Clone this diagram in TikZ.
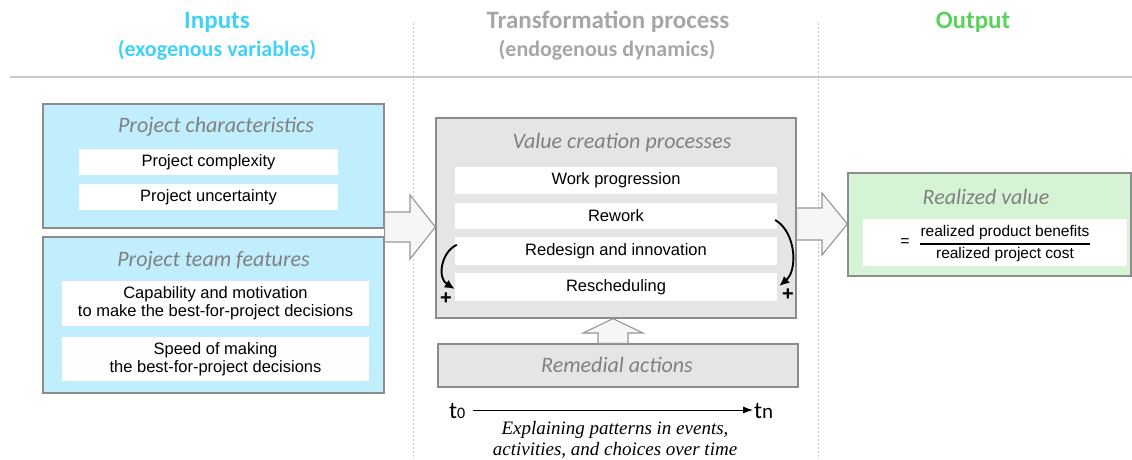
\documentclass[tikz,border=0pt]{standalone}
\usepackage{fontspec}
\setmainfont{Liberation Sans}
\newfontfamily\calib{Carlito}
\newfontfamily\tmsfont{Liberation Serif}
\usetikzlibrary{arrows.meta,calc}
\definecolor{cyanfill}{RGB}{192,238,252}
\definecolor{greenfill}{RGB}{213,244,213}
\definecolor{grayfill}{RGB}{229,229,229}
\definecolor{boxborder}{RGB}{140,140,140}
\definecolor{titlegray}{RGB}{128,128,128}
\definecolor{hdrcyan}{RGB}{64,210,246}
\definecolor{hdrgray}{RGB}{166,166,166}
\definecolor{hdrgreen}{RGB}{90,210,90}
\definecolor{arrowfill}{RGB}{246,246,246}
\definecolor{arrowdraw}{RGB}{150,150,150}
\definecolor{sepgray}{RGB}{200,200,200}
\begin{document}
\begin{tikzpicture}[x=1pt,y=-1pt,
  outerbox/.style={draw=boxborder,line width=1.3pt,inner sep=0pt},
  itembox/.style={fill=white,inner sep=0pt,align=center,font=\fontsize{16.5}{18}\selectfont},
  boxtitle/.style={inner sep=0pt,text=titlegray,font=\calib\itshape\fontsize{22}{26}\selectfont},
  hdrone/.style={inner sep=0pt,font=\calib\bfseries\fontsize{25}{28}\selectfont},
  hdrtwo/.style={inner sep=0pt,font=\calib\bfseries\fontsize{22}{26}\selectfont},
  blockarrow/.style={draw=arrowdraw,fill=arrowfill,line width=1.1pt,line join=miter},
  sepline/.style={draw=sepgray,line width=0.8pt,dash pattern=on 2pt off 2pt},
  loopar/.style={draw=black,line width=1.9pt,-{Latex[length=10pt,width=9pt]}},
  plussign/.style={inner sep=0pt,font=\bfseries\fontsize{20}{20}\selectfont}
]
\useasboundingbox (0,0) rectangle (1132,459);

% separators
\coordinate (d1t) at (413,23); \coordinate (d1b) at (413,459);
\coordinate (d2t) at (818,23); \coordinate (d2b) at (818,459);
\coordinate (hl) at (10,77); \coordinate (hr) at (1132,77);
\draw[sepline] (d1t) -- (d1b);
\draw[sepline] (d2t) -- (d2b);
\draw[draw=sepgray,line width=1.6pt] (hl) -- (hr);

% headers
\node[hdrone,text=hdrcyan] (h1a) at (217,22) {Inputs};
\node[hdrtwo,text=hdrcyan] (h1b) at (217,50) {(exogenous variables)};
\node[hdrone,text=hdrgray] (h2a) at (608,22) {Transformation process};
\node[hdrtwo,text=hdrgray] (h2b) at (607,50) {(endogenous dynamics)};
\node[hdrone,text=hdrgreen] (h3a) at (973,22) {Output};

% inputs
\node[outerbox,fill=cyanfill,minimum width=341pt,minimum height=124pt] (pc) at (213.5,166) {};
\node[boxtitle] (pct) at (216,127) {Project characteristics};
\node[itembox,minimum width=259pt,minimum height=26pt] (pcx) at (208.5,162) {Project complexity};
\node[itembox,minimum width=259pt,minimum height=26pt] (pcu) at (208.5,197) {Project uncertainty};

\node[outerbox,fill=cyanfill,minimum width=341pt,minimum height=156pt] (tf) at (213.5,315) {};
\node[boxtitle] (tft) at (213.5,261) {Project team features};
\node[itembox,minimum width=307pt,minimum height=45pt] (tf1) at (215.5,303.5) {Capability and motivation\\to make the best-for-project decisions};
\node[itembox,minimum width=307pt,minimum height=44pt] (tf2) at (215.5,359) {Speed of making\\the best-for-project decisions};

% transformation
\node[outerbox,fill=grayfill,minimum width=360pt,minimum height=200pt] (vc) at (616,218) {};
\node[boxtitle] (vct) at (622,143) {Value creation processes};
\node[itembox,minimum width=322pt,minimum height=27pt] (wp) at (616,180.5) {Work progression};
\node[itembox,minimum width=322pt,minimum height=26pt] (rw) at (616,216) {Rework};
\node[itembox,minimum width=322pt,minimum height=28pt] (rd) at (616,251) {Redesign and innovation};
\node[itembox,minimum width=322pt,minimum height=28pt] (rs) at (616,287) {Rescheduling};

\draw[loopar] ([shift={(2,8)}]rd.north west) .. controls (441,252) and (437,278) .. ([shift={(0,2)}]rs.west);
\draw[loopar] ([shift={(-2,4)}]rw.east) .. controls (796,232) and (798,270) .. ([shift={(2,-1)}]rs.east);
\node[plussign] (p1) at (446,299) {+};
\node[plussign] (p2) at (788,295) {+};

\node[outerbox,fill=grayfill,minimum width=360pt,minimum height=43pt] (ra) at (618,365.5) {};
\node[boxtitle] (rat) at (617,365) {Remedial actions};

% output
\node[outerbox,fill=greenfill,minimum width=283pt,minimum height=103pt] (rv) at (989.5,224.5) {};
\node[boxtitle] (rvt) at (986,197) {Realized value};
\node[fill=white,inner sep=0pt,minimum width=264pt,minimum height=47pt] (rvw) at (995,242.5) {};
\node[inner sep=0pt,font=\fontsize{16}{18}\selectfont] (eq) at (905,243) {=};
\node[inner sep=0pt,font=\fontsize{15.5}{18}\selectfont] (num) at (1005,232) {realized product benefits};
\node[inner sep=0pt,font=\fontsize{15.5}{18}\selectfont] (den) at (1005,254) {realized project cost};
\draw[line width=1.2pt] (num.west |- 0,244) -- (num.east |- 0,244);

% block arrows
\draw[blockarrow] (pc.east |- 0,212) -- (410,212) -- (410,195) -- (vc.west |- 0,227) -- (410,259) -- (410,242) -- (pc.east |- 0,242) -- cycle;
\draw[blockarrow] (vc.east |- 0,208) -- (822,208) -- (822,193) -- (rv.west |- 0,224) -- (822,255) -- (822,240) -- (vc.east |- 0,240) -- cycle;
\draw[blockarrow] (598,0 |- ra.north) -- (598,333) -- (583,333) -- (613,0 |- vc.south) -- (643,333) -- (628,333) -- (628,0 |- ra.north) -- cycle;

% timeline
\node[inner sep=0pt,anchor=base west,font=\calib\fontsize{24}{24}\selectfont] (t0) at (449,418) {t{\fontsize{16}{16}\selectfont 0}};
\node[inner sep=0pt,anchor=base west,font=\calib\fontsize{24}{24}\selectfont] (tn) at (754,418) {t{\fontsize{21}{21}\selectfont n}};
\coordinate (tls) at (473,410);
\draw[line width=0.8pt,-{Latex[length=10pt,width=7pt]}] (tls) -- ([xshift=-1pt]tn.west |- tls);
\node[inner sep=0pt,align=center,font=\tmsfont\itshape\fontsize{19}{21}\selectfont] (expl) at (615,439.5) {Explaining patterns in events,\\activities, and choices over time};
\end{tikzpicture}
\end{document}
